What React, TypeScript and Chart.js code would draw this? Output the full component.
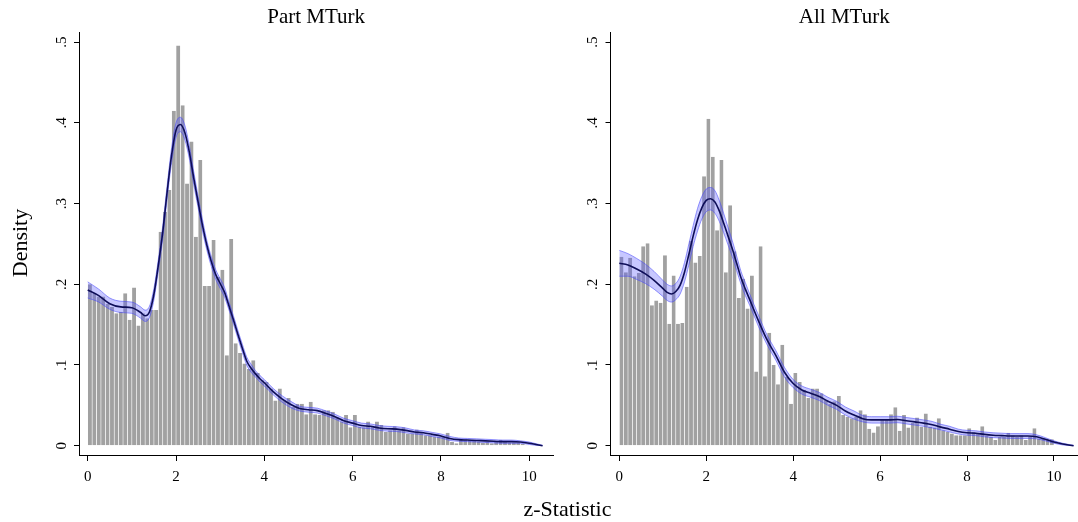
import React, { useEffect, useRef } from "react";
import { Chart, registerables } from "chart.js";

Chart.register(...registerables);

// ---------- data ----------
const binWidth = 0.1;

const partBars = [
  0.200, 0.189, 0.185, 0.185, 0.176, 0.172, 0.164, 0.166, 0.189, 0.156,
  0.196, 0.149, 0.164, 0.158, 0.168, 0.168, 0.265, 0.290, 0.317, 0.415,
  0.496, 0.422, 0.325, 0.377, 0.259, 0.354, 0.198, 0.198, 0.255, 0.209,
  0.218, 0.112, 0.256, 0.127, 0.115, 0.102, 0.095, 0.106, 0.090, 0.081,
  0.079, 0.071, 0.056, 0.071, 0.057, 0.059, 0.048, 0.052, 0.052, 0.039,
  0.0545, 0.039, 0.038, 0.044, 0.044, 0.042, 0.035, 0.030, 0.038, 0.023,
  0.038, 0.0235, 0.023, 0.030, 0.0235, 0.030, 0.0256, 0.017, 0.019, 0.024,
  0.019, 0.023, 0.015, 0.015, 0.020, 0.015, 0.013, 0.013, 0.011, 0.011,
  0.011, 0.016, 0.005, 0.003, 0.008, 0.008, 0.007, 0.007, 0.005, 0.004,
  0.005, 0.003, 0.006, 0.007, 0.005, 0.004, 0.004, 0.004, 0.002, 0.001,
];

const allBars = [
  0.234, 0.215, 0.233, 0.210, 0.214, 0.247, 0.251, 0.174, 0.180, 0.177,
  0.236, 0.151, 0.211, 0.151, 0.152, 0.197, 0.254, 0.227, 0.235, 0.334,
  0.405, 0.358, 0.267, 0.354, 0.215, 0.298, 0.241, 0.183, 0.207, 0.170,
  0.211, 0.092, 0.247, 0.086, 0.140, 0.100, 0.076, 0.125, 0.085, 0.052,
  0.090, 0.079, 0.069, 0.059, 0.071, 0.071, 0.065, 0.057, 0.052, 0.055,
  0.0615, 0.038, 0.036, 0.034, 0.036, 0.044, 0.039, 0.021, 0.0165, 0.024,
  0.033, 0.033, 0.039, 0.0475, 0.0186, 0.038, 0.0227, 0.028, 0.035, 0.0235,
  0.040, 0.0235, 0.0227, 0.034, 0.019, 0.017, 0.015, 0.013, 0.013, 0.013,
  0.0215, 0.017, 0.0145, 0.024, 0.012, 0.011, 0.007, 0.011, 0.011, 0.016,
  0.013, 0.011, 0.013, 0.007, 0.011, 0.0215, 0.009, 0.009, 0.008, 0.008,
];

const partCurveX = [
  0, 0.25, 0.5, 0.75, 1.0, 1.2, 1.3, 1.4, 1.5, 1.6,
  1.7, 1.8, 1.9, 2.0, 2.1, 2.2, 2.3, 2.4, 2.5, 2.6,
  2.7, 2.8, 2.9, 3.0, 3.1, 3.2, 3.3, 3.4, 3.5, 3.6,
  3.7, 3.8, 3.9, 4.0, 4.2, 4.4, 4.6, 4.8, 5.0, 5.2,
  5.4, 5.6, 5.8, 6.0, 6.2, 6.4, 6.6, 6.8, 7.0, 7.2,
  7.4, 7.6, 7.8, 8.0, 8.2, 8.4, 8.6, 8.8, 9.0, 9.2,
  9.4, 9.6, 9.8, 10.0, 10.15, 10.3,
];
const partCurveY = [
  0.193, 0.186, 0.176, 0.172, 0.171, 0.165, 0.161, 0.166, 0.188, 0.224,
  0.265, 0.315, 0.36, 0.391, 0.398, 0.388, 0.364, 0.332, 0.302, 0.273,
  0.248, 0.228, 0.212, 0.201, 0.19, 0.173, 0.156, 0.138, 0.121, 0.105,
  0.096, 0.089, 0.083, 0.078, 0.067, 0.058, 0.051, 0.046, 0.0445, 0.0435,
  0.040, 0.036, 0.031, 0.028, 0.025, 0.024, 0.022, 0.021, 0.0205, 0.019,
  0.017, 0.016, 0.014, 0.012, 0.009, 0.0075, 0.007, 0.0065, 0.006, 0.0055,
  0.005, 0.005, 0.0045, 0.003, 0.0015, 0,
];
const partBandHalf = [
  0.010, 0.008, 0.007, 0.007, 0.007, 0.007, 0.007, 0.007, 0.007, 0.007,
  0.008, 0.008, 0.009, 0.009, 0.009, 0.009, 0.008, 0.008, 0.007, 0.007,
  0.006, 0.006, 0.006, 0.006, 0.006, 0.005, 0.005, 0.005, 0.005, 0.005,
  0.005, 0.004, 0.004, 0.004, 0.004, 0.004, 0.004, 0.003, 0.003, 0.003,
  0.003, 0.003, 0.003, 0.003, 0.003, 0.003, 0.003, 0.003, 0.003, 0.003,
  0.0025, 0.0025, 0.0025, 0.0025, 0.0025, 0.002, 0.002, 0.002, 0.002, 0.002,
  0.002, 0.002, 0.0015, 0.0015, 0.001, 0.0005,
];

const allCurveX = [
  0, 0.2, 0.4, 0.6, 0.8, 1.0, 1.1, 1.2, 1.3, 1.4,
  1.5, 1.6, 1.7, 1.8, 1.9, 2.0, 2.1, 2.2, 2.3, 2.4,
  2.5, 2.6, 2.7, 2.8, 2.9, 3.0, 3.2, 3.4, 3.6, 3.8,
  4.0, 4.2, 4.4, 4.6, 4.8, 5.0, 5.2, 5.4, 5.6, 5.8,
  6.0, 6.2, 6.4, 6.6, 6.8, 7.0, 7.2, 7.4, 7.6, 7.8,
  8.0, 8.2, 8.4, 8.6, 8.8, 9.0, 9.2, 9.4, 9.6, 9.8,
  10.0, 10.2, 10.45,
];
const allCurveY = [
  0.226, 0.224, 0.219, 0.213, 0.205, 0.195, 0.19, 0.188, 0.191, 0.199,
  0.215, 0.237, 0.26, 0.28, 0.295, 0.304, 0.306, 0.302, 0.291, 0.276,
  0.26, 0.244, 0.226, 0.208, 0.194, 0.181, 0.155, 0.131, 0.112, 0.091,
  0.077, 0.069, 0.065, 0.061, 0.055, 0.050, 0.043, 0.038, 0.0335, 0.032,
  0.032, 0.032, 0.0325, 0.031, 0.0295, 0.028, 0.026, 0.023, 0.0205, 0.0175,
  0.016, 0.0155, 0.014, 0.013, 0.0125, 0.012, 0.012, 0.012, 0.011, 0.008,
  0.0045, 0.002, 0,
];
const allBandHalf = [
  0.016, 0.014, 0.013, 0.012, 0.011, 0.010, 0.010, 0.010, 0.010, 0.011,
  0.012, 0.013, 0.013, 0.014, 0.014, 0.014, 0.014, 0.014, 0.013, 0.012,
  0.011, 0.010, 0.009, 0.008, 0.008, 0.007, 0.007, 0.006, 0.006, 0.006,
  0.005, 0.005, 0.005, 0.005, 0.005, 0.005, 0.005, 0.005, 0.004, 0.004,
  0.004, 0.004, 0.004, 0.004, 0.004, 0.004, 0.004, 0.0035, 0.0035, 0.003,
  0.003, 0.003, 0.003, 0.003, 0.003, 0.003, 0.003, 0.003, 0.0025, 0.002,
  0.0015, 0.001, 0.0005,
];

const xTicks = [0, 2, 4, 6, 8, 10];
const xTickLabels = ["0", "2", "4", "6", "8", "10"];
const yTicks = [0, 0.1, 0.2, 0.3, 0.4, 0.5];
const yTickLabels = ["0", ".1", ".2", ".3", ".4", ".5"];

const panelTitles = ["Part MTurk", "All MTurk"];
const yAxisTitle = "Density";
const xAxisTitle = "z-Statistic";

// ---------- styles ----------
const FONT = '"Liberation Serif", "Times New Roman", serif';
const BAR_COLOR = "#a1a1a1";
const LINE_COLOR = "#0e0e58";
const BAND_FILL = "rgba(85, 85, 255, 0.33)";
const BAND_EDGE = "rgba(70, 70, 250, 0.55)";

const H = 522;
const AREA_TOP = 32.3;
const AREA_BOTTOM = 455;
const ZERO_Y = 445.7;
const PX_PER_UNIT_Y = 807;
const Y_MIN = (ZERO_Y - AREA_BOTTOM) / PX_PER_UNIT_Y;
const Y_MAX = (ZERO_Y - AREA_TOP) / PX_PER_UNIT_Y;

type PanelProps = {
  canvasLeft: number;
  canvasWidth: number;
  areaLeft: number;
  areaRight: number;
  xMin: number;
  xMax: number;
  bars: number[];
  cx: number[];
  cy: number[];
  ch: number[];
};

const tickLabelPlugin = {
  id: "stataTickLabels",
  afterDraw(chart: any) {
    const ctx = chart.ctx;
    const xs = chart.scales.x;
    const ys = chart.scales.y;
    const area = chart.chartArea;
    ctx.save();
    ctx.fillStyle = "#000";
    ctx.font = `15px ${FONT}`;
    ctx.textAlign = "center";
    ctx.textBaseline = "middle";
    xTicks.forEach((v, i) => {
      ctx.fillText(xTickLabels[i], xs.getPixelForValue(v), 477);
    });
    yTicks.forEach((v, i) => {
      const py = ys.getPixelForValue(v);
      ctx.save();
      ctx.translate(area.left - 17, py);
      ctx.rotate(-Math.PI / 2);
      ctx.fillText(yTickLabels[i], 0, 0);
      ctx.restore();
    });
    ctx.restore();
  },
};

function Panel(p: PanelProps) {
  const ref = useRef<HTMLCanvasElement>(null);
  useEffect(() => {
    if (!ref.current) return;
    const barData = p.bars.map((v, i) => ({ x: (i + 0.5) * binWidth, y: v }));
    const lineData = p.cx.map((x, i) => ({ x, y: p.cy[i] }));
    const hiData = p.cx.map((x, i) => ({ x, y: p.cy[i] + p.ch[i] }));
    const loData = p.cx.map((x, i) => ({ x, y: Math.max(0, p.cy[i] - p.ch[i]) }));
    const chart = new Chart(ref.current, {
      type: "bar",
      data: {
        datasets: [
          {
            type: "line",
            data: lineData,
            borderColor: LINE_COLOR,
            borderWidth: 1.6,
            pointRadius: 0,
            cubicInterpolationMode: "monotone",
            fill: false,
            order: 0,
          } as any,
          {
            type: "line",
            data: hiData,
            borderColor: BAND_EDGE,
            borderWidth: 1,
            pointRadius: 0,
            cubicInterpolationMode: "monotone",
            fill: "+1",
            backgroundColor: BAND_FILL,
            order: 1,
          } as any,
          {
            type: "line",
            data: loData,
            borderColor: BAND_EDGE,
            borderWidth: 1,
            pointRadius: 0,
            cubicInterpolationMode: "monotone",
            fill: false,
            order: 1,
          } as any,
          {
            type: "bar",
            data: barData,
            backgroundColor: BAR_COLOR,
            borderColor: "rgba(255,255,255,0.8)",
            borderWidth: { left: 0.28, right: 0.28, top: 0, bottom: 0 },
            borderSkipped: "start",
            barPercentage: 1,
            categoryPercentage: 1,
            inflateAmount: 0,
            order: 2,
          } as any,
        ],
      },
      options: {
        animation: false,
        responsive: false,
        maintainAspectRatio: false,
        devicePixelRatio: 1,
        events: [],
        layout: {
          padding: { top: AREA_TOP, right: p.canvasWidth - p.areaRight, left: 0, bottom: 0 },
        },
        plugins: {
          legend: { display: false },
          tooltip: { enabled: false },
          title: { display: false },
        },
        scales: {
          x: {
            type: "linear",
            min: p.xMin,
            max: p.xMax,
            offset: false,
            grid: {
              offset: false,
              drawOnChartArea: false,
              drawTicks: true,
              tickLength: 6,
              color: "#000",
              tickColor: "#000",
              lineWidth: 1,
            },
            border: { display: true, color: "#000", width: 1 },
            ticks: { display: false },
            afterBuildTicks: (s: any) => {
              s.ticks = xTicks.map((v) => ({ value: v }));
            },
            afterFit: (s: any) => {
              s.height = H - AREA_BOTTOM;
            },
          },
          y: {
            type: "linear",
            min: Y_MIN,
            max: Y_MAX,
            grid: {
              drawOnChartArea: false,
              drawTicks: true,
              tickLength: 5,
              color: "#000",
              tickColor: "#000",
              lineWidth: 1,
            },
            border: { display: true, color: "#000", width: 1 },
            ticks: { display: false },
            afterBuildTicks: (s: any) => {
              s.ticks = yTicks.map((v) => ({ value: v }));
            },
            afterFit: (s: any) => {
              s.width = p.areaLeft;
            },
          },
        } as any,
      },
      plugins: [tickLabelPlugin],
    } as any);
    return () => chart.destroy();
  }, []);
  return (
    <canvas
      ref={ref}
      width={p.canvasWidth}
      height={H}
      style={{
        position: "absolute",
        left: p.canvasLeft,
        top: 0,
        width: p.canvasWidth,
        height: H,
      }}
    />
  );
}

const LEFT_AREA = { l: 79, r: 553.3 };
const RIGHT_AREA = { l: 610.5, r: 1078 };
const LEFT_X0 = 87.7;
const LEFT_PX = 44.16;
const RIGHT_X0 = 619.3;
const RIGHT_PX = 43.47;

export default function App() {
  const titleSize = 21;
  const axisTitleSize = 22;
  return (
    <div
      style={{
        position: "fixed",
        left: 0,
        top: 0,
        width: 1078,
        height: H,
        background: "#fff",
        overflow: "hidden",
        fontFamily: FONT,
        color: "#000",
      }}
    >
      <Panel
        canvasLeft={0}
        canvasWidth={560}
        areaLeft={LEFT_AREA.l}
        areaRight={LEFT_AREA.r}
        xMin={(LEFT_AREA.l - LEFT_X0) / LEFT_PX}
        xMax={(LEFT_AREA.r - LEFT_X0) / LEFT_PX}
        bars={partBars}
        cx={partCurveX}
        cy={partCurveY}
        ch={partBandHalf}
      />
      <Panel
        canvasLeft={560}
        canvasWidth={518}
        areaLeft={RIGHT_AREA.l - 560}
        areaRight={RIGHT_AREA.r - 560}
        xMin={(RIGHT_AREA.l - RIGHT_X0) / RIGHT_PX}
        xMax={(RIGHT_AREA.r - RIGHT_X0) / RIGHT_PX}
        bars={allBars}
        cx={allCurveX}
        cy={allCurveY}
        ch={allBandHalf}
      />
      {[LEFT_AREA, RIGHT_AREA].map((a, i) => (
        <div
          key={i}
          style={{
            position: "absolute",
            left: (a.l + a.r) / 2 - 150,
            width: 300,
            top: 24 - 0.8375 * titleSize,
            fontSize: titleSize,
            lineHeight: `${titleSize}px`,
            textAlign: "center",
            whiteSpace: "nowrap",
          }}
        >
          {panelTitles[i]}
        </div>
      ))}
      <div
        style={{
          position: "absolute",
          left: 567.5 - 150,
          width: 300,
          top: 516 - 0.8375 * axisTitleSize,
          fontSize: axisTitleSize,
          lineHeight: `${axisTitleSize}px`,
          textAlign: "center",
          whiteSpace: "nowrap",
        }}
      >
        {xAxisTitle}
      </div>
      <div
        style={{
          position: "absolute",
          left: 19.6 - 100,
          top: 243 - axisTitleSize / 2,
          width: 200,
          height: axisTitleSize,
          fontSize: axisTitleSize,
          lineHeight: `${axisTitleSize}px`,
          textAlign: "center",
          whiteSpace: "nowrap",
          transform: "rotate(-90deg)",
          transformOrigin: "50% 50%",
        }}
      >
        {yAxisTitle}
      </div>
    </div>
  );
}
